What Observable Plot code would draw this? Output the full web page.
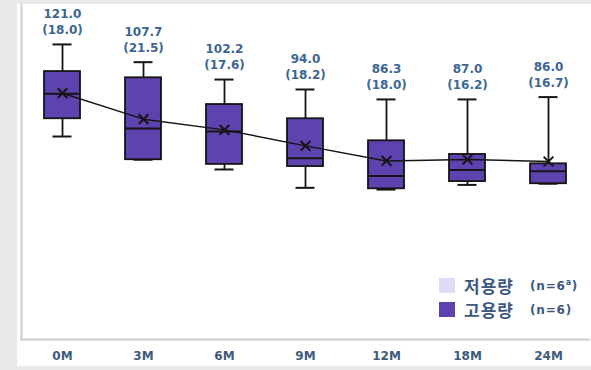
<!DOCTYPE html>
<html>
<head>
<meta charset="utf-8">
<script src="https://cdn.jsdelivr.net/npm/d3@7"></script>
<script src="https://cdn.jsdelivr.net/npm/@observablehq/plot@0.6"></script>
<style>
  html, body { margin: 0; padding: 0; background: #e9e9e9; }
  #panel { position: absolute; left: 17px; top: 4px; width: 574px; height: 362px; background: #fff; overflow: hidden; }
  #panel svg g[aria-label^="x-axis"] text { font-weight: bold; fill: #3e5b7e; }
  #legend { position: absolute; left: 422px; top: 274px; font-family: "DejaVu Sans", sans-serif; color: #3c5a80; }
  .row { display: flex; align-items: center; height: 15px; margin-bottom: 9px; }
  .sw { width: 16px; height: 15px; margin-right: 9px; }
  .ko { font-family: "Noto Sans CJK KR", sans-serif; font-size: 17px; font-weight: 700; width: 66px; letter-spacing: 1px; }
  .n { font-size: 12px; font-weight: bold; letter-spacing: 0.8px; }
  .n sup { font-size: 8px; }
</style>
</head>
<body>
<div id="panel">
  <div id="legend"></div>
</div>
<script>
// ---- data ----
const periods = ["0M", "3M", "6M", "9M", "12M", "18M", "24M"];
const means   = [121.0, 107.7, 102.2, 94.0, 86.3, 87.0, 86.0];
const sds     = [18.0, 21.5, 17.6, 18.2, 18.0, 16.2, 16.7];
const mins    = [98.8, 86.9, 81.9, 72.5, 71.6, 74.0, 74.6];
const q1s     = [107.9, 86.9, 84.5, 83.4, 72.0, 75.7, 74.6];
const medians = [120.7, 102.9, 101.4, 87.7, 78.5, 81.7, 81.0];
const q3s     = [132.1, 128.9, 115.2, 107.9, 96.6, 89.6, 84.8];
const maxs    = [146.0, 136.9, 128.0, 122.9, 117.8, 117.8, 119.0];
const legendGroups = ["저용량", "고용량"];
const legendN = ["(n=6<sup>a</sup>)", "(n=6)"];
const legendColors = ["#dcdcf7", "#5e42b0"];

const table = periods.map((p, i) => ({
  period: p, mean: means[i], sd: sds[i], min: mins[i], q1: q1s[i],
  median: medians[i], q3: q3s[i], max: maxs[i],
  label: `${means[i].toFixed(1)}\n(${sds[i].toFixed(1)})`
}));

const boxFill = "#5e42b0";
const ink = "#151515";

const chart = Plot.plot({
  width: 574,
  height: 362,
  marginTop: 1,
  marginBottom: 27,
  marginLeft: 4,
  marginRight: 2.5,
  style: { fontFamily: "DejaVu Sans, sans-serif", fontSize: "12px", background: "#fff" },
  x: { type: "band", domain: periods, paddingInner: 0.55, paddingOuter: 0.275, tickSize: 0, tickPadding: 12, label: null },
  y: { domain: [-5.24, 165.95], axis: null },
  marks: [
    Plot.frame({ anchor: "left", stroke: "#d6d6d6", strokeWidth: 2.5 }),
    Plot.frame({ anchor: "bottom", stroke: "#d6d6d6", strokeWidth: 2.5 }),
    Plot.ruleX(table, { x: "period", y1: "min", y2: "max", stroke: ink, strokeWidth: 1.8 }),
    Plot.tickY(table, { x: "period", y: "max", stroke: ink, strokeWidth: 2, insetLeft: 8.5, insetRight: 8.5 }),
    Plot.tickY(table, { x: "period", y: "min", stroke: ink, strokeWidth: 2, insetLeft: 8.5, insetRight: 8.5 }),
    Plot.barY(table, { x: "period", y1: "q1", y2: "q3", fill: boxFill, stroke: ink, strokeWidth: 1.8 }),
    Plot.tickY(table, { x: "period", y: "median", stroke: ink, strokeWidth: 2 }),
    Plot.lineY(table, { x: "period", y: "mean", stroke: ink, strokeWidth: 1.5 }),
    Plot.dot(table, { x: "period", y: "mean", symbol: "times", r: 4.5, stroke: ink, strokeWidth: 2 }),
    Plot.text(table, { x: "period", y: "max", text: "label", lineAnchor: "bottom", lineHeight: 1.33, dy: -10.5,
      fill: "#3d6594", fontWeight: "bold", fontSize: 12 })
  ]
});
const panel = document.getElementById("panel");
panel.insertBefore(chart, panel.firstChild);

const legend = document.getElementById("legend");
legendGroups.forEach((g, i) => {
  const row = document.createElement("div");
  row.className = "row";
  row.innerHTML = `<div class="sw" style="background:${legendColors[i]}"></div><span class="ko">${g}</span><span class="n">${legendN[i]}</span>`;
  legend.appendChild(row);
});
</script>
</body>
</html>
